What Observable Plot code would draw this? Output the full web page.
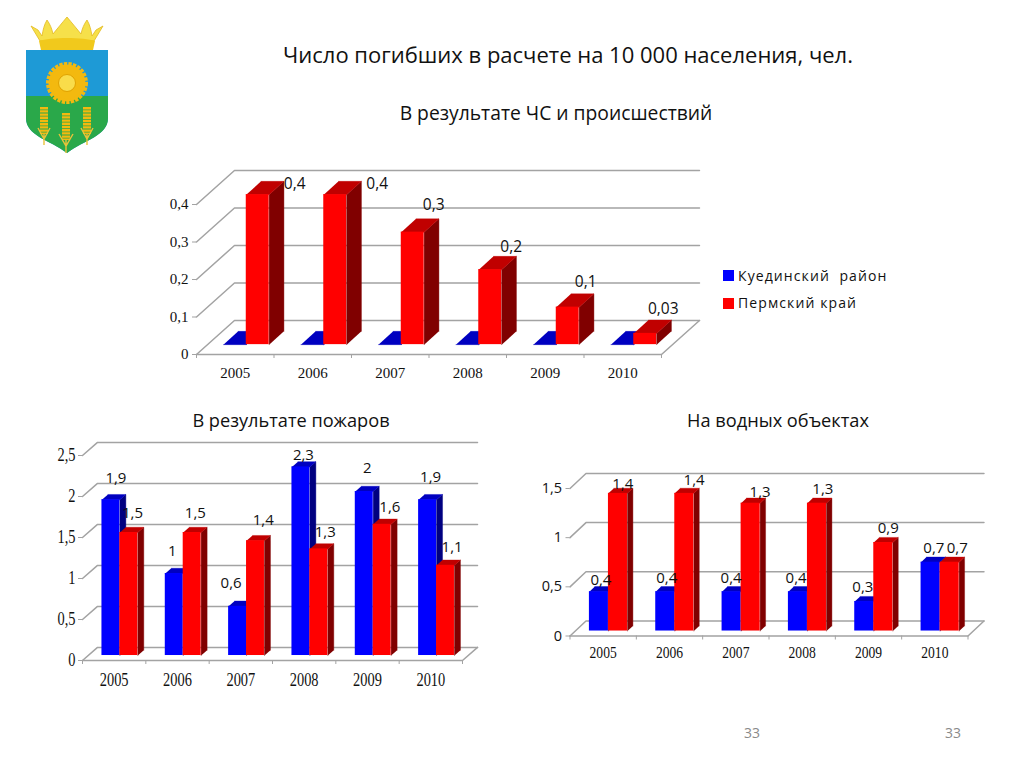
<!DOCTYPE html>
<html lang="ru"><head><meta charset="utf-8">
<script src="https://cdn.jsdelivr.net/npm/d3@7"></script>
<script src="https://cdn.jsdelivr.net/npm/@observablehq/plot@0.6"></script>
<style>
html,body{margin:0;padding:0;background:#fff;width:1024px;height:768px;overflow:hidden;font-family:"Open Sans",sans-serif;color:#111}
.t{position:absolute;white-space:pre;transform:translate(-50%,-50%);line-height:1}
.chart{position:absolute}
.chart svg{overflow:visible;background:transparent;display:block}
.sw{position:absolute;width:11px;height:11px}
.lg{position:absolute;font-size:14px;letter-spacing:1.1px;white-space:pre;line-height:1;transform:translateY(-50%)}
</style></head><body>
<svg style="position:absolute;left:0;top:0" width="140" height="170" aria-label="герб">
  <path d="M26 50H108V118C108 136 84 140 67 153C50 140 26 136 26 118Z" fill="#1e9ad6"/>
  <path d="M26 96H108V118C108 136 84 140 67 153C50 140 26 136 26 118Z" fill="#2aa84a"/>
  <path d="M40 41L31 26L38 30L42 36C43 30 44 25 47 20C50 24 52 29 53 34C57 29 62 23 67 17C72 23 77 29 81 34C82 29 84 24 87 20C90 25 91 30 92 36L96 30L103 26L94 41Z" fill="#f6e04a" stroke="#e2b91f" stroke-width=".8"/>
  <path d="M39 41C50 37 84 37 95 41L93 50H41Z" fill="#f1c91c"/>
  <circle cx="67" cy="83" r="18.5" fill="#f3b90f" stroke="#f3b90f" stroke-width="5" stroke-dasharray="3.2 1.2"/>
  <circle cx="67" cy="83" r="8.5" fill="#f9dc4a" stroke="#e0a200" stroke-width="1"/>
  <g fill="none" stroke="#f3b90f" stroke-width="8" stroke-dasharray="2.4 .8">
    <path d="M44 107V134M66 113V140M87 107V134"/>
  </g>
  <g fill="none" stroke="#e8c23a" stroke-width="1.4">
    <path d="M44 134V145M38 128L44 139L50 128M66 140V153M59 134L66 146L73 134M87 134V145M81 128L87 139L93 128"/>
  </g>
</svg>
<div class="t" style="left:568px;top:54px;font-size:22px">Число погибших в расчете на 10 000 населения, чел.</div>
<div class="t" style="left:556px;top:113px;font-size:19.3px">В результате ЧС и происшествий</div>
<div class="t" style="left:291px;top:420px;font-size:18.2px">В результате пожаров</div>
<div class="t" style="left:778px;top:420px;font-size:18.2px">На водных объектах</div>
<div class="sw" style="left:723px;top:270px;background:#0000ff"></div>
<div class="lg" style="left:738px;top:276px">Куединский  район</div>
<div class="sw" style="left:723px;top:298px;background:#ff0000"></div>
<div class="lg" style="left:738px;top:303px">Пермский край</div>
<div class="t" style="left:752px;top:733px;font-size:14px;color:#8a8a8a">33</div>
<div class="t" style="left:953px;top:733px;font-size:14px;color:#8a8a8a">33</div>
<div id="c1" class="chart"></div><div id="c2" class="chart"></div><div id="c3" class="chart"></div>
<script>
const years = [2005, 2006, 2007, 2008, 2009, 2010];

const emergencyBlue = [0, 0, 0, 0, 0, 0];
const emergencyRed = [0.4, 0.4, 0.3, 0.2, 0.1, 0.03];
const emergencyRedText = ["0,4", "0,4", "0,3", "0,2", "0,1", "0,03"];

const fireBlue = [1.9, 1, 0.6, 2.3, 2, 1.9];
const fireRed = [1.5, 1.5, 1.4, 1.3, 1.6, 1.1];

const waterBlue = [0.4, 0.4, 0.4, 0.4, 0.3, 0.7];
const waterRed = [1.4, 1.4, 1.3, 1.3, 0.9, 0.7];

const emergencyTicks = [0, 0.1, 0.2, 0.3, 0.4];
const fireTicks = [0, 0.5, 1, 1.5, 2, 2.5];
const waterTicks = [0, 0.5, 1, 1.5];

// per-label nudges away from the bar top, as hand-placed on the slide
const nudge1Red = [[37,-11],[42,-11],[21,-27.5],[21,-23],[18,-25.5],[18,-24]];
const nudge2Blue = [[5,-21.5],[-2,-22],[-6.5,-23],[2.5,-11.5],[3,-23],[3,-22.5]];
const nudge2Red = [[3.6,-19.3],[3.2,-19.3],[7.8,-20.2],[6.4,-16.7],[7.7,-16.8],[6.6,-18]];
const nudge3Blue = [[2,-11.4],[1.5,-13.7],[-0.5,-13.7],[-1.8,-13.7],[-1.4,-14.5],[3.3,-14.2]];
const nudge3Red = [[4.8,-9.1],[9.8,-13.1],[9.5,-11.2],[5.9,-13.9],[4.9,-14.2],[7.6,-14.2]];

const BLUE = {front:"#0000ff", top:"#0000c0", side:"#000080"};
const RED = {front:"#ff0000", top:"#c00000", side:"#800000"};
const GRID = "#a3a3a3";
const comma = v => String(v).replace(".", ",");

function chart(o){
  const {el, blue, red, ticks} = o;
  const {depthX:DX, depthY:DY, d0, d1, barW} = o;
  const X = (x,d) => x + d*DX, Y = (v,d) => v + d*DY;

  // back wall and floor, in data units
  const grid = ticks.flatMap(v => [
    {k:v, x:X(0,0), y:Y(v,0)}, {k:v, x:X(0,1), y:Y(v,1)}, {k:v, x:X(6,1), y:Y(v,1)}
  ]);
  const floor = [{x:X(0,0),y:0},{x:X(6,0),y:0},{x:X(6,1),y:Y(0,1)}];

  const series = (vals, slot, col) => {
    const rows = vals.map((v,i) => ({v, l:i+.5+d0*DX+slot*barW, r:i+.5+d0*DX+(slot+1)*barW, i}));
    const poly = rows.flatMap(({v,l,r,i}) => {
      const dd = d1-d0;
      const px = (x,d) => x + d*DX, py = (y,d) => y + d0*DY + d*DY;
      return [
        ...[[r,0,0],[r,v,0],[r,v,dd],[r,0,dd]].map(([x,y,d]) => ({k:`s${i}`, c:col.side, x:px(x,d), y:py(y,d)})),
        ...[[l,v,0],[r,v,0],[r,v,dd],[l,v,dd]].map(([x,y,d]) => ({k:`t${i}`, c:col.top, x:px(x,d), y:py(y,d)}))
      ];
    });
    return [
      Plot.line(poly, {x:"x", y:"y", z:"k", fill:"c", stroke:"c", strokeWidth:.4}),
      Plot.rect(rows, {x1:"l", x2:"r", y1:d=>Y(0,d0), y2:d=>Y(d.v,d0), fill:col.front, inset:0})
    ];
  };

  const labels = (vals, slot, nudges, texts) => nudges ? vals.map((v,i) =>
    Plot.text([v], {
      x: () => i+.5+d0*DX+(slot+.5)*barW,
      y: () => Y(v,d0),
      text: () => texts ? texts[i] : comma(v),
      dx: nudges[i][0], dy: nudges[i][1],
      fontFamily:"Open Sans", fontSize:o.labelSize, fill:"#111",
      letterSpacing:o.labelSpacing
    })) : [];

  const tickFont = {fontFamily:"Liberation Serif", fontSize:o.tickSize, fill:"#111"};
  const yFont = o.yFont || tickFont;
  const plot = Plot.plot({
    width:o.w, height:o.h,
    marginLeft:o.x0-o.left, marginRight:o.left+o.w-o.x1,
    marginTop:o.yTop-o.top, marginBottom:o.top+o.h-o.y0,
    x:{domain:[0,6], axis:null},
    y:{domain:[0,o.max], axis:null},
    style:{background:"transparent", overflow:"visible"},
    marks:[
      Plot.line(grid, {x:"x", y:"y", z:"k", stroke:GRID, strokeWidth:1.5}),
      Plot.line(floor, {x:"x", y:"y", stroke:GRID, strokeWidth:1.5}),
      Plot.axisY({ticks, tickFormat:comma, tickSize:4, tickPadding:o.padY, stroke:GRID, label:null, ...yFont}),
      Plot.axisX({ticks:d3.range(0,7), tickFormat:()=>"", tickSize:4, stroke:GRID, label:null}),
      Plot.axisX({ticks:years.map((y,i)=>i+.5), tickFormat:t=>String(years[t-.5]), tickSize:0, tickPadding:o.padX, label:null, ...tickFont}),
      ...series(blue, -1, BLUE),
      ...series(red, 0, RED),
      ...labels(blue, -1, o.nBlue),
      ...labels(red, 0, o.nRed, o.redText)
    ]
  });
  const host = document.getElementById(el);
  host.style.left = o.left+"px"; host.style.top = o.top+"px";
  host.appendChild(plot);
  if (o.squeeze) {
    const sel = o.yFont ? 'g[aria-label="x-axis tick label"] text' : 'g[aria-label$="tick label"] text';
    plot.querySelectorAll(sel).forEach(t => {
      if (!t.textContent) return;
      t.setAttribute("textLength", (t.getComputedTextLength()*o.squeeze).toFixed(1));
      t.setAttribute("lengthAdjust", "spacingAndGlyphs");
    });
  }
}

chart({el:"c1", blue:emergencyBlue, red:emergencyRed, redText:emergencyRedText, ticks:emergencyTicks, max:.4,
  left:140, top:150, w:580, h:250, x0:196, x1:661, y0:354, yTop:204,
  depthX:.49, depthY:.0907, d0:.29, d1:.68, barW:.295,
  tickSize:15, padY:4, padX:13, labelSize:15.5, labelSpacing:"1px", nRed:nudge1Red});
chart({el:"c2", blue:fireBlue, red:fireRed, ticks:fireTicks, max:2.5,
  left:30, top:430, w:460, h:270, x0:82, x1:462, y0:660, yTop:455,
  depthX:.237, depthY:.16, d0:.38, d1:.78, barW:.283,
  tickSize:18, padY:3, padX:13, squeeze:.8, labelSize:15, labelSpacing:"0", nBlue:nudge2Blue, nRed:nudge2Red});
chart({el:"c3", blue:waterBlue, red:waterRed, ticks:waterTicks, max:1.5,
  left:530, top:460, w:470, h:210, x0:569.5, x1:967.5, y0:635.5, yTop:488,
  depthX:.241, depthY:.153, d0:.33, d1:.67, barW:.287,
  tickSize:16, padY:4, padX:11, squeeze:.85, labelSize:15, labelSpacing:"0",
  yFont:{fontFamily:"Open Sans", fontSize:14.5, fill:"#111"}, nBlue:nudge3Blue, nRed:nudge3Red});
</script>
</body></html>
